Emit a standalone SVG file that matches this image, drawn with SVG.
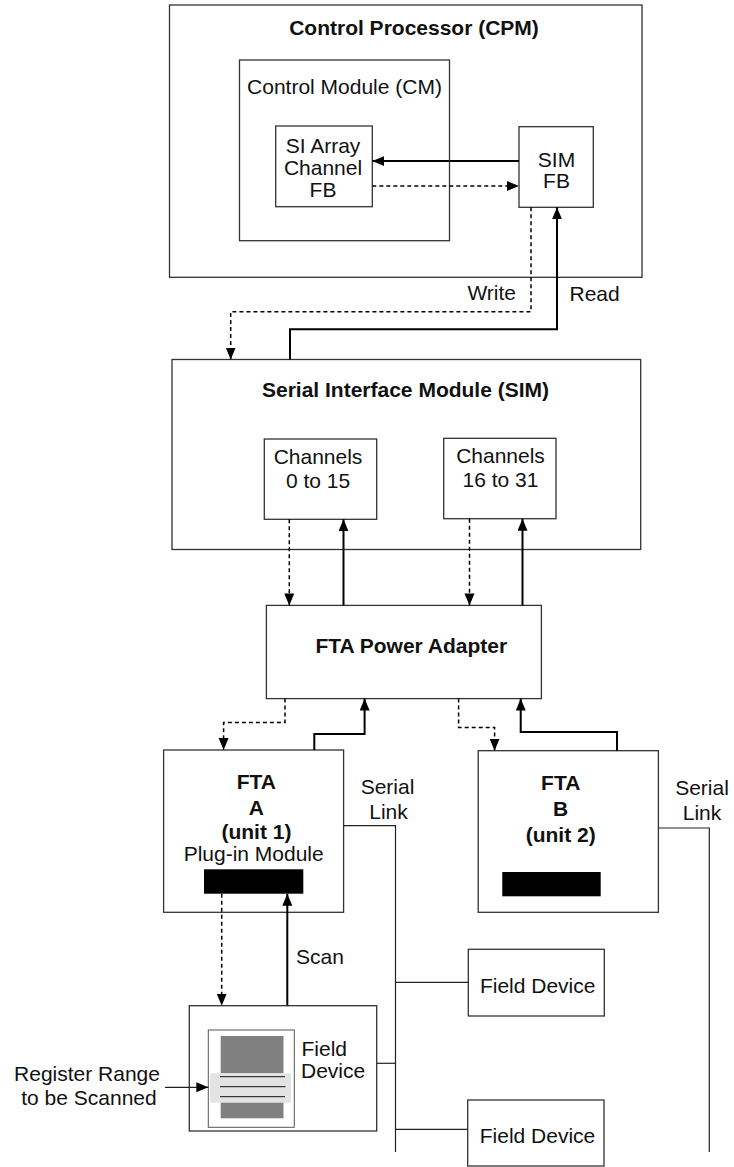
<svg xmlns="http://www.w3.org/2000/svg" width="734" height="1167" viewBox="0 0 734 1167">
<style>
text{font-family:"Liberation Sans",Arial,sans-serif;font-size:21px;fill:#111}
.b{font-weight:bold}
.m{text-anchor:middle}
.box{fill:#fff;stroke:#333;stroke-width:1.3}
.sol{fill:none;stroke:#000;stroke-width:2}
.dsh{fill:none;stroke:#000;stroke-width:1.5;stroke-dasharray:4 3}
.thin{fill:none;stroke:#222;stroke-width:1.2}
</style>
<defs>
<marker id="ah" markerUnits="userSpaceOnUse" markerWidth="13" markerHeight="11" refX="12" refY="5" orient="auto" viewBox="0 0 13 11">
<path d="M0,0 L12,5 L0,10 z" fill="#000"/>
</marker>
</defs>
<rect width="734" height="1167" fill="#fff"/>

<g id="cpm">
<rect class="box" x="169.5" y="5" width="472.5" height="272.3"/>
<text class="b m" x="414" y="35">Control Processor (CPM)</text>
</g>
<g id="cm">
<rect class="box" x="239.5" y="60" width="210" height="180.7"/>
<text class="m" x="344.5" y="94">Control Module (CM)</text>
</g>
<g id="siarray">
<rect class="box" x="275.7" y="126" width="96.6" height="80.7"/>
<text class="m" x="323" y="153">SI Array</text>
<text class="m" x="323" y="175">Channel</text>
<text class="m" x="323" y="196.5">FB</text>
</g>
<g id="simfb">
<rect class="box" x="519" y="126.7" width="74.3" height="80.6"/>
<text class="m" x="556.5" y="166.5">SIM</text>
<text class="m" x="556.5" y="187.5">FB</text>
</g>
<g id="sim">
<rect class="box" x="172" y="359.5" width="468.7" height="190"/>
<text class="b m" x="405.5" y="397">Serial Interface Module (SIM)</text>
</g>
<g id="ch0">
<rect class="box" x="264.3" y="439" width="112.4" height="80.3"/>
<text class="m" x="318" y="464.3">Channels</text>
<text class="m" x="318" y="488.3">0 to 15</text>
</g>
<g id="ch16">
<rect class="box" x="443.7" y="438.3" width="112.3" height="80.4"/>
<text class="m" x="500.5" y="463.3">Channels</text>
<text class="m" x="500.5" y="486.7">16 to 31</text>
</g>
<g id="fpa">
<rect class="box" x="266.4" y="605.4" width="275" height="93.2"/>
<text class="b" x="315.4" y="652.5">FTA Power Adapter</text>
</g>
<g id="ftaA">
<rect class="box" x="163.6" y="750" width="180" height="162.3"/>
<text class="b m" x="256.4" y="789">FTA</text>
<text class="b m" x="256.4" y="814.5">A</text>
<text class="b m" x="256.4" y="839">(unit 1)</text>
<text class="m" x="253.7" y="861">Plug-in Module</text>
<rect x="204" y="869.3" width="99.3" height="24.4" fill="#000"/>
</g>
<g id="ftaB">
<rect class="box" x="478.2" y="750.7" width="180.2" height="161.6"/>
<text class="b m" x="560.7" y="790">FTA</text>
<text class="b m" x="560.7" y="816">B</text>
<text class="b m" x="560.7" y="841.5">(unit 2)</text>
<rect x="502.3" y="872" width="98.4" height="24.3" fill="#000"/>
</g>
<g id="fieldA">
<rect class="box" x="189.3" y="1005.7" width="187.4" height="125.3"/>
<rect x="208.3" y="1030" width="86" height="97.3" fill="#fff" stroke="#555" stroke-width="1"/>
<rect x="220.7" y="1036" width="62.8" height="37.3" fill="#808080"/>
<rect x="210" y="1073.3" width="81" height="29.4" fill="#e3e3e3"/>
<rect x="220.7" y="1102.7" width="62.8" height="15.6" fill="#808080"/>
<line x1="220" y1="1076.7" x2="285" y2="1076.7" stroke="#111" stroke-width="1"/>
<line x1="220" y1="1086.7" x2="285.5" y2="1086.7" stroke="#111" stroke-width="1"/>
<line x1="220" y1="1096.7" x2="285" y2="1096.7" stroke="#111" stroke-width="1"/>
<text x="301.5" y="1055.7">Field</text>
<text x="301" y="1078.3">Device</text>
</g>
<g id="field1">
<rect class="box" x="468.3" y="949.3" width="136" height="66.7"/>
<text class="m" x="537.7" y="993.3">Field Device</text>
</g>
<g id="field2">
<rect class="box" x="467.7" y="1100" width="136.3" height="66"/>
<text class="m" x="537.5" y="1143.3">Field Device</text>
</g>
<g id="labels">
<text x="516" y="300" text-anchor="end">Write</text>
<text x="569.5" y="301">Read</text>
<text class="m" x="387.5" y="793.6">Serial</text>
<text class="m" x="388.5" y="818.6">Link</text>
<text class="m" x="702" y="795">Serial</text>
<text class="m" x="702" y="820">Link</text>
<text x="296" y="964.3">Scan</text>
<text class="m" x="87" y="1081">Register Range</text>
<text class="m" x="89" y="1105">to be Scanned</text>
</g>

<g id="connectors">
<path class="sol" d="M519,161 H372.3" marker-end="url(#ah)"/>
<path class="dsh" d="M372.3,186 H519" marker-end="url(#ah)"/>
<path class="dsh" d="M531,207.3 V311.7 H230.7 V359.5" marker-end="url(#ah)"/>
<path class="sol" d="M290,359.5 V329.3 H557 V207.3" marker-end="url(#ah)"/>
<path class="dsh" d="M289.3,519.3 V605.4" marker-end="url(#ah)"/>
<path class="sol" d="M343.5,605.4 V519.3" marker-end="url(#ah)"/>
<path class="dsh" d="M469.5,518.7 V605.4" marker-end="url(#ah)"/>
<path class="sol" d="M522.5,605.4 V518.7" marker-end="url(#ah)"/>
<path class="dsh" d="M285,698.6 V722.5 H223.6 V750" marker-end="url(#ah)"/>
<path class="sol" d="M314.3,750 V734 H364.6 V698.6" marker-end="url(#ah)"/>
<path class="dsh" d="M458.6,698.6 V727.5 H494.6 V750.7" marker-end="url(#ah)"/>
<path class="sol" d="M617,750.7 V732 H520.7 V698.6" marker-end="url(#ah)"/>
<path class="dsh" d="M221.7,893.7 V1005.7" marker-end="url(#ah)"/>
<path class="sol" d="M287.3,1005.7 V893.7" marker-end="url(#ah)"/>
<path class="thin" d="M165,1087.3 H208.3" marker-end="url(#ah)"/>
<path class="thin" d="M343.6,825.7 H395.5 V1152"/>
<path class="thin" d="M395.5,982.3 H468.3"/>
<path class="thin" d="M376.7,1063.3 H395.5"/>
<path class="thin" d="M395.5,1129.3 H467.7"/>
<path class="thin" d="M658.4,828 H709.3 V1152"/>
</g>
</svg>
